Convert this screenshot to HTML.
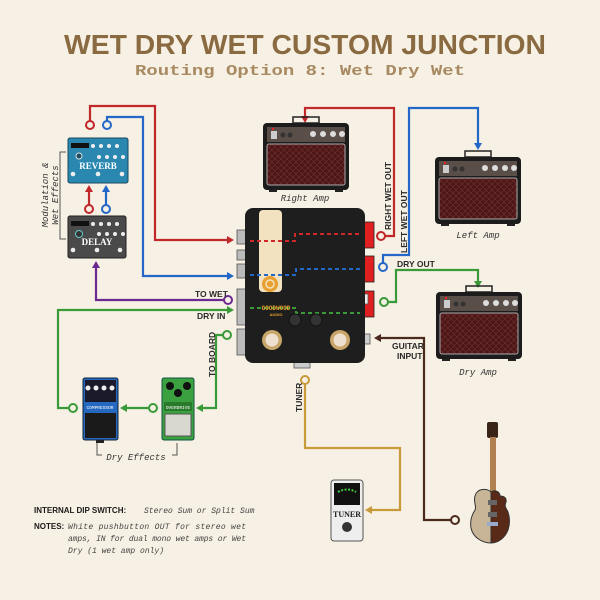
<!DOCTYPE html>
<html><head><meta charset="utf-8"><style>
html,body{margin:0;padding:0;background:#f7f0e4;}
svg{display:block;}
.m{font-family:"Liberation Mono",monospace;}
.s{font-family:"Liberation Sans",sans-serif;font-weight:bold;}
</style></head><body>
<svg width="600" height="600" viewBox="0 0 600 600" xmlns="http://www.w3.org/2000/svg">
<rect width="600" height="600" fill="#f7f0e4"/>
<text x="305" y="54" text-anchor="middle" class="s" font-size="28" fill="#8a6a40" textLength="482" lengthAdjust="spacingAndGlyphs">WET DRY WET CUSTOM JUNCTION</text>
<text x="300" y="75" text-anchor="middle" class="m" font-size="15" fill="#a88a62" font-weight="bold" textLength="330" lengthAdjust="spacingAndGlyphs">Routing Option 8: Wet Dry Wet</text>

<defs>
<pattern id="grill" width="6" height="6" patternUnits="userSpaceOnUse"><rect width="6" height="6" fill="#4a1618"/><path d="M0 0L6 6M6 0L0 6" stroke="#6a2a28" stroke-width="0.8"/></pattern>
<g id="amp">
<path d="M30 -6h26v6h-26z" fill="none" stroke="#222" stroke-width="1.5"/>
<rect x="0" y="0" width="86" height="67" rx="4" fill="#1c1c1c"/>
<rect x="4" y="4" width="78" height="15" fill="#5a4e48"/>
<rect x="8" y="8" width="6" height="8" fill="#ccc"/><circle cx="10" cy="6" r="1.2" fill="#e22"/>
<circle cx="20" cy="12" r="2.5" fill="#333"/><circle cx="27" cy="12" r="2.5" fill="#333"/>
<circle cx="50" cy="11" r="3" fill="#ddd"/><circle cx="60" cy="11" r="3" fill="#ddd"/><circle cx="70" cy="11" r="3" fill="#ddd"/><circle cx="79" cy="11" r="3" fill="#ddd"/>
<rect x="4" y="21" width="78" height="41" rx="2" fill="url(#grill)" stroke="#aaa" stroke-width="1"/>
<rect x="6" y="67" width="8" height="2" fill="#222"/><rect x="72" y="67" width="8" height="2" fill="#222"/>
</g>
</defs>

<!-- wires -->
<g fill="none" stroke-width="2.2">
<path d="M90 128V106H155V240H228" stroke="#c0282a"/>
<path d="M107 128V117H143V276H228" stroke="#2367c8"/>
<path d="M89 212V190" stroke="#c0282a"/>
<path d="M106 212V190" stroke="#2367c8"/>
<path d="M384 236H394V108H305V118" stroke="#c0282a"/>
<path d="M383 264V255H409V108H478V146" stroke="#2367c8"/>
<path d="M388 302H396V270H478V283" stroke="#3a9a3a"/>
<path d="M224 300H96V266" stroke="#6a2a90"/>
<path d="M228 310H58V408H69" stroke="#3a9a3a"/>
<path d="M149 408H124" stroke="#3a9a3a"/>
<path d="M223 335H216V408H200" stroke="#3a9a3a"/>
<path d="M378 338H424V520H451" stroke="#4a2a1c"/>
<path d="M305 383V448H400V510H370" stroke="#c89a3a"/>
</g>
<g stroke-width="2" fill="#f7f0e4">
<circle cx="90" cy="125" r="4" stroke="#c0282a"/><circle cx="107" cy="125" r="4" stroke="#2367c8"/>
<circle cx="89" cy="209" r="4" stroke="#c0282a"/><circle cx="106" cy="209" r="4" stroke="#2367c8"/>
<circle cx="381" cy="236" r="4" stroke="#c0282a"/><circle cx="383" cy="267" r="4" stroke="#2367c8"/>
<circle cx="384" cy="302" r="4" stroke="#3a9a3a"/><circle cx="228" cy="300" r="4" stroke="#6a2a90"/>
<circle cx="73" cy="408" r="4" stroke="#3a9a3a"/><circle cx="153" cy="408" r="4" stroke="#3a9a3a"/>
<circle cx="227" cy="335" r="4" stroke="#3a9a3a"/><circle cx="455" cy="520" r="4" stroke="#4a2a1c"/>
<circle cx="305" cy="380" r="4" stroke="#c89a3a"/>
</g>
<g>
<path d="M234 240l-7-4v8z" fill="#c0282a"/><path d="M234 276l-7-4v8z" fill="#2367c8"/>
<path d="M89 185l-4 7h8z" fill="#c0282a"/><path d="M106 185l-4 7h8z" fill="#2367c8"/>
<path d="M305 123l-4-7h8z" fill="#c0282a"/><path d="M478 150l-4-7h8z" fill="#2367c8"/>
<path d="M478 288l-4-7h8z" fill="#3a9a3a"/><path d="M96 261l-4 7h8z" fill="#6a2a90"/>
<path d="M234 310l-7-4v8z" fill="#3a9a3a"/><path d="M120 408l7-4v8z" fill="#3a9a3a"/>
<path d="M196 408l7-4v8z" fill="#3a9a3a"/><path d="M374 338l7-4v8z" fill="#4a2a1c"/>
<path d="M365 510l7-4v8z" fill="#c89a3a"/>
</g>

<!-- labels -->
<g class="s" font-size="8.5" fill="#2a2a2a">
<text x="195" y="297">TO WET</text>
<text x="197" y="319">DRY IN</text>
<text x="397" y="267">DRY OUT</text>
<text x="392" y="349">GUITAR</text><text x="397" y="359">INPUT</text>
<text transform="translate(391,230) rotate(-90)">RIGHT WET OUT</text>
<text transform="translate(407,253) rotate(-90)">LEFT WET OUT</text>
<text transform="translate(215,377) rotate(-90)">TO BOARD</text>
<text transform="translate(302,412) rotate(-90)">TUNER</text>
</g>
<g class="m" font-size="9" font-style="italic" fill="#333">
<text x="305" y="201" text-anchor="middle">Right Amp</text>
<text x="478" y="238" text-anchor="middle">Left Amp</text>
<text x="478" y="375" text-anchor="middle">Dry Amp</text>
<text x="136" y="460" text-anchor="middle">Dry Effects</text>
<text transform="translate(48,195) rotate(-90)" text-anchor="middle">Modulation &amp;</text>
<text transform="translate(58,195) rotate(-90)" text-anchor="middle">Wet Effects</text>
</g>
<path d="M97 443v12h5M172 455h5v-12M66 152h-6v87h6" fill="none" stroke="#555" stroke-width="1"/>

<!-- amps -->
<use href="#amp" x="263" y="123"/>
<use href="#amp" x="435" y="157"/>
<use href="#amp" x="436" y="292"/>

<!-- reverb -->
<rect x="68" y="138" width="60" height="45" rx="2" fill="#2a88b0" stroke="#1a4a60"/>
<rect x="71" y="143" width="18" height="5" fill="#111"/>
<g fill="#eee"><circle cx="93" cy="146" r="2"/><circle cx="101" cy="146" r="2"/><circle cx="109" cy="146" r="2"/><circle cx="117" cy="146" r="2"/>
<circle cx="99" cy="157" r="2"/><circle cx="107" cy="157" r="2"/><circle cx="115" cy="157" r="2"/><circle cx="123" cy="157" r="2"/>
<circle cx="73" cy="174" r="2.3"/><circle cx="98" cy="174" r="2.3"/><circle cx="122" cy="174" r="2.3"/></g>
<circle cx="79" cy="156" r="3" fill="#1a4a60" stroke="#ddd"/>
<text x="98" y="169" text-anchor="middle" font-family="Liberation Serif,serif" font-weight="bold" font-size="9" fill="#fff">REVERB</text>
<!-- delay -->
<rect x="68" y="216" width="58" height="42" rx="2" fill="#4a4a4a" stroke="#222"/>
<rect x="71" y="221" width="18" height="5" fill="#111"/>
<g fill="#eee"><circle cx="93" cy="224" r="2"/><circle cx="101" cy="224" r="2"/><circle cx="109" cy="224" r="2"/><circle cx="117" cy="224" r="2"/>
<circle cx="99" cy="234" r="2"/><circle cx="107" cy="234" r="2"/><circle cx="115" cy="234" r="2"/><circle cx="123" cy="234" r="2"/>
<circle cx="73" cy="250" r="2.3"/><circle cx="97" cy="250" r="2.3"/><circle cx="120" cy="250" r="2.3"/></g>
<circle cx="79" cy="234" r="3.5" fill="#333" stroke="#6cc"/>
<text x="97" y="245" text-anchor="middle" font-family="Liberation Serif,serif" font-weight="bold" font-size="9" fill="#fff">DELAY</text>

<!-- compressor -->
<rect x="83" y="378" width="35" height="62" rx="2" fill="#2468c0" stroke="#123"/>
<rect x="85" y="380" width="31" height="22" fill="#1a1a2a"/>
<g fill="#eee"><circle cx="88" cy="388" r="2.5"/><circle cx="96" cy="388" r="2.5"/><circle cx="104" cy="388" r="2.5"/><circle cx="112" cy="388" r="2.5"/></g>
<text x="100" y="409" text-anchor="middle" class="m" font-size="4.5" fill="#fff">COMPRESSOR</text>
<rect x="85" y="413" width="31" height="25" fill="#1a1a1a"/>
<rect x="96" y="440" width="8" height="3" fill="#222"/>
<!-- overdrive -->
<rect x="162" y="378" width="32" height="62" rx="2" fill="#3aa040" stroke="#154"/>
<g fill="#111"><circle cx="170" cy="386" r="4"/><circle cx="187" cy="386" r="4"/><circle cx="178" cy="393" r="4"/></g>
<rect x="164" y="402" width="28" height="9" fill="#2a7a2c"/>
<text x="178" y="409" text-anchor="middle" class="m" font-size="4.5" fill="#fff">OVERDRIVE</text>
<rect x="165" y="414" width="26" height="22" fill="#d8d8d0" stroke="#555"/>

<!-- main unit -->
<g fill="#bbb" stroke="#555" stroke-width="0.8">
<rect x="237" y="230" width="9" height="14"/><rect x="237" y="250" width="9" height="10"/><rect x="237" y="264" width="9" height="14"/>
<rect x="237" y="289" width="9" height="36"/><rect x="237" y="329" width="9" height="26"/>
<rect x="364" y="222" width="10" height="26" fill="#e02020" stroke="#222"/><rect x="364" y="256" width="10" height="26" fill="#e02020" stroke="#222"/>
<rect x="364" y="291" width="10" height="26" fill="#e02020" stroke="#222"/><rect x="364" y="294" width="4" height="10" fill="#eee"/>
<rect x="364" y="334" width="6" height="10" fill="#ccc"/>
<rect x="294" y="360" width="16" height="8" fill="#ccc"/>
</g>
<rect x="245" y="208" width="120" height="155" rx="8" fill="#1e1e1e"/>
<rect x="259" y="210" width="23" height="82" rx="4" fill="#f3e2c0"/>
<circle cx="270" cy="284" r="8" fill="#e8a030"/><circle cx="270" cy="284" r="4" fill="none" stroke="#f3e2c0" stroke-width="1.5"/>
<g fill="none" stroke-width="2" stroke-dasharray="4 3">
<path d="M250 241H295V234H360" stroke="#d02828"/>
<path d="M250 275H296V269H360" stroke="#2367c8"/>
<path d="M250 308H296V313H360" stroke="#3a9a3a"/>
</g>
<text x="276" y="310" text-anchor="middle" class="m" font-size="6" fill="#e8a030" font-weight="bold">GOODWOOD</text>
<text x="276" y="316" text-anchor="middle" class="s" font-size="4" fill="#e8a030">AUDIO</text>
<circle cx="295" cy="320" r="6" fill="#333" stroke="#111"/><circle cx="316" cy="320" r="6" fill="#333" stroke="#111"/>
<circle cx="272" cy="340" r="10" fill="#c9a76a"/><circle cx="272" cy="340" r="6.5" fill="#eee0d0"/>
<circle cx="340" cy="340" r="10" fill="#c9a76a"/><circle cx="340" cy="340" r="6.5" fill="#eee0d0"/>

<!-- tuner -->
<rect x="331" y="480" width="32" height="61" rx="3" fill="#eee" stroke="#555"/>
<rect x="334" y="483" width="26" height="22" fill="#111"/>
<path d="M338 492q9-5 18 0" fill="none" stroke="#4c4" stroke-width="2" stroke-dasharray="2 1.5"/>
<text x="347" y="517" text-anchor="middle" font-family="Liberation Serif,serif" font-weight="bold" font-size="8" fill="#222">TUNER</text>
<circle cx="347" cy="527" r="5" fill="#333"/>

<!-- guitar -->
<rect x="487" y="422" width="11" height="16" rx="2" fill="#3a2418"/>
<rect x="490" y="437" width="6" height="58" fill="#b08050"/>
<path d="M491 492c-4-4-14-4-16 4c-2 6 2 10 0 14c-4 6-5 12-4 18c2 10 12 15 20 15z" fill="#c8b496" stroke="#333"/>
<path d="M491 492c4-3 9 0 9 4c4 0 7 2 6 6c-2 4 0 6 2 10c2 6 2 12 0 18c-3 8-10 13-17 13z" fill="#5a2a18" stroke="#333"/>
<rect x="488" y="500" width="9" height="5" fill="#666"/><rect x="488" y="512" width="9" height="5" fill="#666"/>
<rect x="487" y="522" width="11" height="4" fill="#9ac"/>

<!-- notes -->
<g font-size="8" fill="#1a1a1a">
<text x="34" y="513" class="s">INTERNAL DIP SWITCH:</text>
<text x="34" y="529" class="s">NOTES:</text>
</g>
<g class="m" font-style="italic" font-size="8" fill="#444">
<text x="144" y="513">Stereo Sum or Split Sum</text>
<text x="68" y="529" textLength="178" lengthAdjust="spacing">White pushbutton OUT for stereo wet</text>
<text x="68" y="541" textLength="178" lengthAdjust="spacing">amps, IN for dual mono wet amps or Wet</text>
<text x="68" y="553">Dry (1 wet amp only)</text>
</g>
</svg>
</body></html>
